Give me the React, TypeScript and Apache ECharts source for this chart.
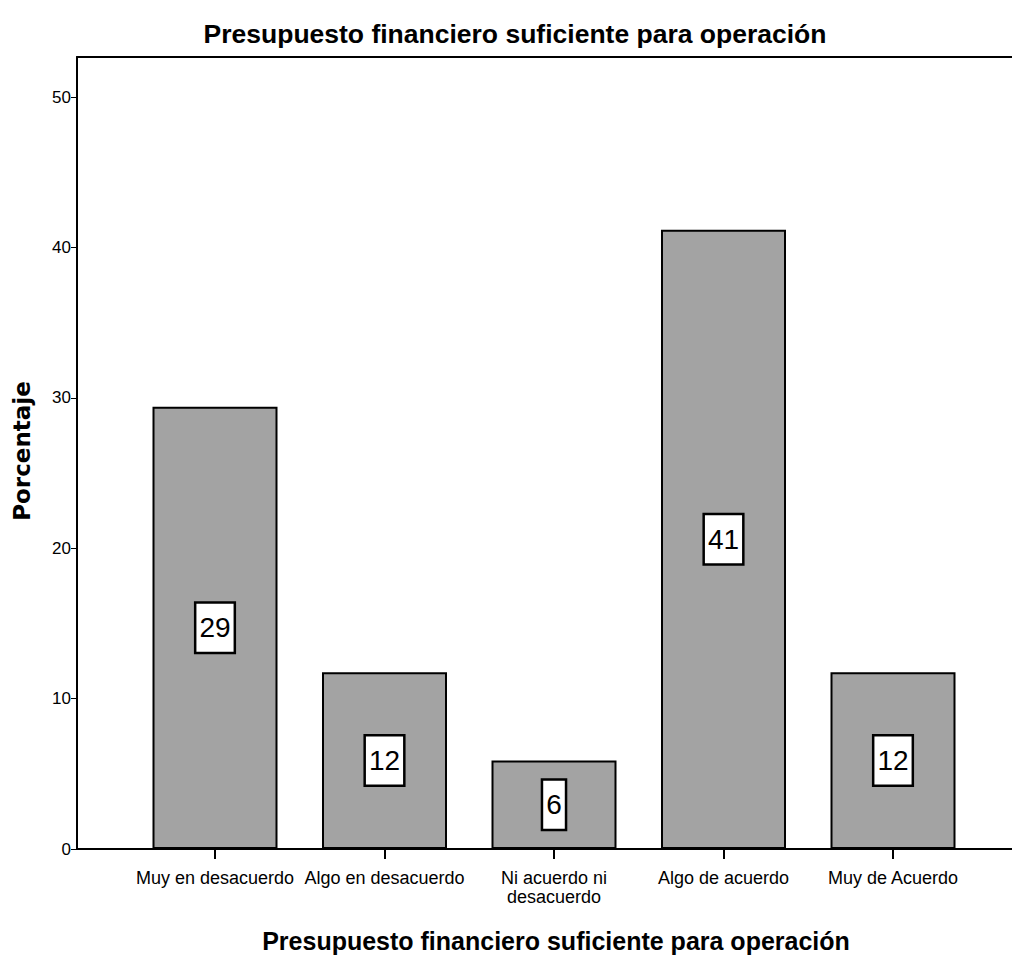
import React, { useEffect, useRef } from "react";
import * as echarts from "echarts";

const categories = [
  "Muy en desacuerdo",
  "Algo en desacuerdo",
  "Ni acuerdo ni\ndesacuerdo",
  "Algo de acuerdo",
  "Muy de Acuerdo",
];
const percentages = [29.41, 11.76, 5.88, 41.18, 11.76];
const titleText = "Presupuesto financiero suficiente para operación";
const xName = "Presupuesto financiero suficiente para operación";
const yName = "Porcentaje";
const yMax = 52.66;

export default function App() {
  const ref = useRef<HTMLDivElement>(null);
  useEffect(() => {
    if (!ref.current) return;
    const chart = echarts.init(ref.current, null, { renderer: "svg" });
    const font = "Liberation Sans, Arial, sans-serif";
    chart.setOption({
      animation: false,
      backgroundColor: "#ffffff",
      title: {
        text: titleText,
        left: 510,
        top: 15,
        textAlign: "center",
        textStyle: { fontFamily: font, fontSize: 26.5, fontWeight: "bold", color: "#000" },
      },
      graphic: [
        {
          type: "text",
          x: 22,
          y: 451,
          rotation: Math.PI / 2,
          style: {
            text: yName,
            fontFamily: "DejaVu Sans, sans-serif",
            fontSize: 23,
            fontWeight: "bold",
            fill: "#000",
            textAlign: "center",
            textVerticalAlign: "middle",
          },
        },
        {
          type: "text",
          x: 556,
          y: 941,
          style: {
            text: xName,
            fontFamily: font,
            fontSize: 25,
            fontWeight: "bold",
            fill: "#000",
            textAlign: "center",
            textVerticalAlign: "middle",
          },
        },
      ],
      grid: [
        { left: 77, right: 0, top: 57, bottom: 110 },
        { left: 130.25, width: 847.5, top: 57, bottom: 110 },
      ],
      xAxis: [
        {
          type: "value",
          gridIndex: 0,
          min: 0,
          max: 1,
          axisLine: { show: true, onZero: false, lineStyle: { color: "#000", width: 2 } },
          axisTick: { show: false },
          axisLabel: { show: false },
          splitLine: { show: false },
        },
        {
          type: "value",
          gridIndex: 0,
          position: "top",
          min: 0,
          max: 1,
          axisLine: { show: true, onZero: false, lineStyle: { color: "#000", width: 2 } },
          axisTick: { show: false },
          axisLabel: { show: false },
          splitLine: { show: false },
        },
        {
          type: "category",
          gridIndex: 1,
          data: categories,
          axisLine: { show: false },
          axisTick: {
            show: true,
            alignWithLabel: true,
            length: 10,
            lineStyle: { color: "#000", width: 2 },
          },
          axisLabel: {
            show: true,
            interval: 0,
            fontFamily: font,
            fontSize: 18,
            color: "#000",
            margin: 19,
            lineHeight: 19,
          },
          splitLine: { show: false },
        },
      ],
      yAxis: [
        {
          type: "value",
          gridIndex: 0,
          min: 0,
          max: yMax,
          interval: 10,
          axisLine: { show: true, onZero: false, lineStyle: { color: "#000", width: 2 } },
          axisTick: { show: true, length: 6, lineStyle: { color: "#000", width: 1 } },
          axisLabel: {
            fontFamily: font,
            fontSize: 17,
            color: "#000",
            margin: 6,
            showMaxLabel: false,
          },
          splitLine: { show: false },
        },
        {
          type: "value",
          gridIndex: 1,
          min: 0,
          max: yMax,
          interval: 10,
          show: false,
          splitLine: { show: false },
        },
      ],
      series: [
        {
          type: "bar",
          xAxisIndex: 2,
          yAxisIndex: 1,
          barWidth: 125,
          data: percentages,
          itemStyle: { color: "#a3a3a3", borderColor: "#000", borderWidth: 2 },
          label: {
            show: true,
            position: "inside",
            formatter: (p: any) => String(Math.round(p.value)),
            fontFamily: font,
            fontSize: 28,
            lineHeight: 28,
            color: "#000",
            backgroundColor: "#fff",
            borderColor: "#000",
            borderWidth: 2.5,
            padding: [11, 3, 9, 3],
          },
        },
      ],
    });
    return () => chart.dispose();
  }, []);
  return (
    <div
      ref={ref}
      style={{ position: "fixed", left: 0, top: 0, width: 1012, height: 959 }}
    />
  );
}
